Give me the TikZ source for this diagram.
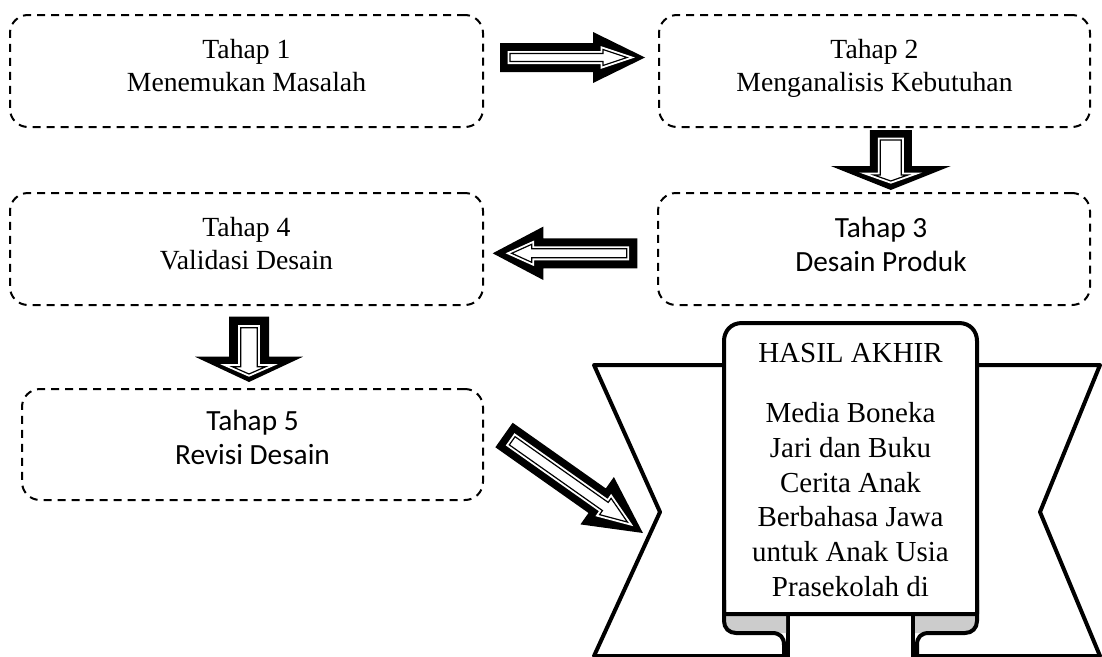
\documentclass[tikz,border=0pt]{standalone}
\usepackage{fontspec}
\setmainfont{Liberation Serif}
\newfontfamily\calibrifont{Carlito}
\newcommand\arrowshape[5]{(#1,-#2) -- (#3,-#2) -- (#3,-#4) -- (#5,0) -- (#3,#4) -- (#3,#2) -- (#1,#2) -- cycle}
\newcommand\bigarrow[9]{%
  \fill[arrowouter] \arrowshape{0}{#2}{#3}{#4}{#1};
  \path[arrowgap] \arrowshape{#5}{#6}{#7}{#8}{#9};
  \path[arrowline] \arrowshape{#5}{#6}{#7}{#8}{#9};}
\newcommand\lowstrut[1]{\rule[-#1pt]{0pt}{#1pt}}
\tikzset{
  stepbox/.style={draw, line width=2pt, dash pattern=on 8pt off 6pt, rounded corners=18pt, inner sep=0pt, align=center},
  serifbox/.style={stepbox, font=\fontsize{27.7}{33.4}\selectfont},
  sansbox/.style={stepbox, font=\calibrifont\fontsize{29.3}{34}\selectfont},
  arrowouter/.style={fill=black},
  arrowgap/.style={draw=white, fill=white, line width=5pt, line join=miter},
  arrowline/.style={draw=black, line width=1.2pt, line join=miter},
  ribbon/.style={draw=black, line width=4pt, line join=round},
  ribbonfill/.style={fill=white},
  curl/.style={fill=black!20},
  paneltext/.style={font=\fontsize{29}{34.7}\selectfont, align=center, inner sep=0pt},
}
\begin{document}
\begin{tikzpicture}[x=1pt,y=-1pt]
\useasboundingbox (0,0) rectangle (1102,656);
\clip (0,0) rectangle (1102,656);
\fill[white] (0,0) rectangle (1102,656);

% step boxes
\node[serifbox, minimum width=473pt, minimum height=112pt] (b1) at (246.5,71) {Tahap 1\\Menemukan Masalah\lowstrut{11}};
\node[serifbox, minimum width=431pt, minimum height=112pt] (b2) at (874.5,71) {Tahap 2\\Menganalisis Kebutuhan\lowstrut{11}};
\node[sansbox, minimum width=432pt, minimum height=112pt] (b3) at (874,249) {\hspace*{14pt}Tahap 3\\\hspace*{14pt}Desain Produk\lowstrut{9}};
\node[serifbox, minimum width=473pt, minimum height=112pt] (b4) at (246.5,249) {Tahap 4\\Validasi Desain\lowstrut{11}};
\node[sansbox, minimum width=461pt, minimum height=111pt] (b5) at (252.5,444.5) {Tahap 5\\Revisi Desain\lowstrut{15}};

% block arrows
\begin{scope}[shift={(500,57.5)}]
  \bigarrow{145}{14.5}{93}{25.5}{10}{4}{103}{8}{127}
\end{scope}
\begin{scope}[shift={(890.8,130)}, rotate=-90]
  \bigarrow{60}{21}{36}{60}{10}{10.5}{45}{17}{51}
\end{scope}
\begin{scope}[shift={(637.3,253.3)}, rotate=180]
  \bigarrow{144.6}{15}{94}{26.7}{10.6}{4.5}{105.6}{9}{125.6}
\end{scope}
\begin{scope}[shift={(249,316.7)}, rotate=-90]
  \bigarrow{65.3}{20}{40}{54}{11}{8.3}{50}{16.7}{57.3}
\end{scope}
\begin{scope}[shift={(504,435)}, rotate=-35.2]
  \bigarrow{170}{15}{114}{29}{10}{5}{124}{10}{151}
\end{scope}

% ribbon banner: wings
\path[ribbonfill] (594,365) -- (788,365) -- (788,656) -- (594,656) -- (660,512) -- cycle;
\draw[ribbon] (724,365) -- (594,365) -- (660,512) -- (594,656) -- (784,656);
\path[ribbonfill] (1100,365) -- (913,365) -- (913,656) -- (1100,656) -- (1040,512) -- cycle;
\draw[ribbon] (977,365) -- (1100,365) -- (1040,512) -- (1100,656) -- (917,656);
\draw[ribbon] (788,614) -- (788,660);
\draw[ribbon] (913,614) -- (913,660);
% curls (back side)
\fill[curl] (786,614) -- (724,614) -- (724,621) .. controls (724,628) and (729,633) .. (736,633) -- (786,633) -- cycle;
\fill[curl] (915,614) -- (977,614) -- (977,621) .. controls (977,628) and (972,633) .. (965,633) -- (915,633) -- cycle;
% central panel
\draw[ribbon, fill=white] (724,614) -- (724,341) .. controls (724,331) and (731,323) .. (742,323) -- (959,323) .. controls (970,323) and (977,331) .. (977,341) -- (977,614) -- cycle;
% curl outlines
\draw[ribbon] (724,600) -- (724,621) .. controls (724,628) and (729,633) .. (736,633) -- (772,633) .. controls (780,633) and (784,637) .. (784,645) -- (784,660);
\draw[ribbon] (977,600) -- (977,621) .. controls (977,628) and (972,633) .. (965,633) -- (929,633) .. controls (921,633) and (917,637) .. (917,645) -- (917,660);

\node[paneltext, anchor=north] (hasil) at (850.5,343.3) {HASIL AKHIR\\[25.3pt]Media Boneka\\Jari dan Buku\\Cerita Anak\\Berbahasa Jawa\\untuk Anak Usia\\Prasekolah di};
\end{tikzpicture}
\end{document}
